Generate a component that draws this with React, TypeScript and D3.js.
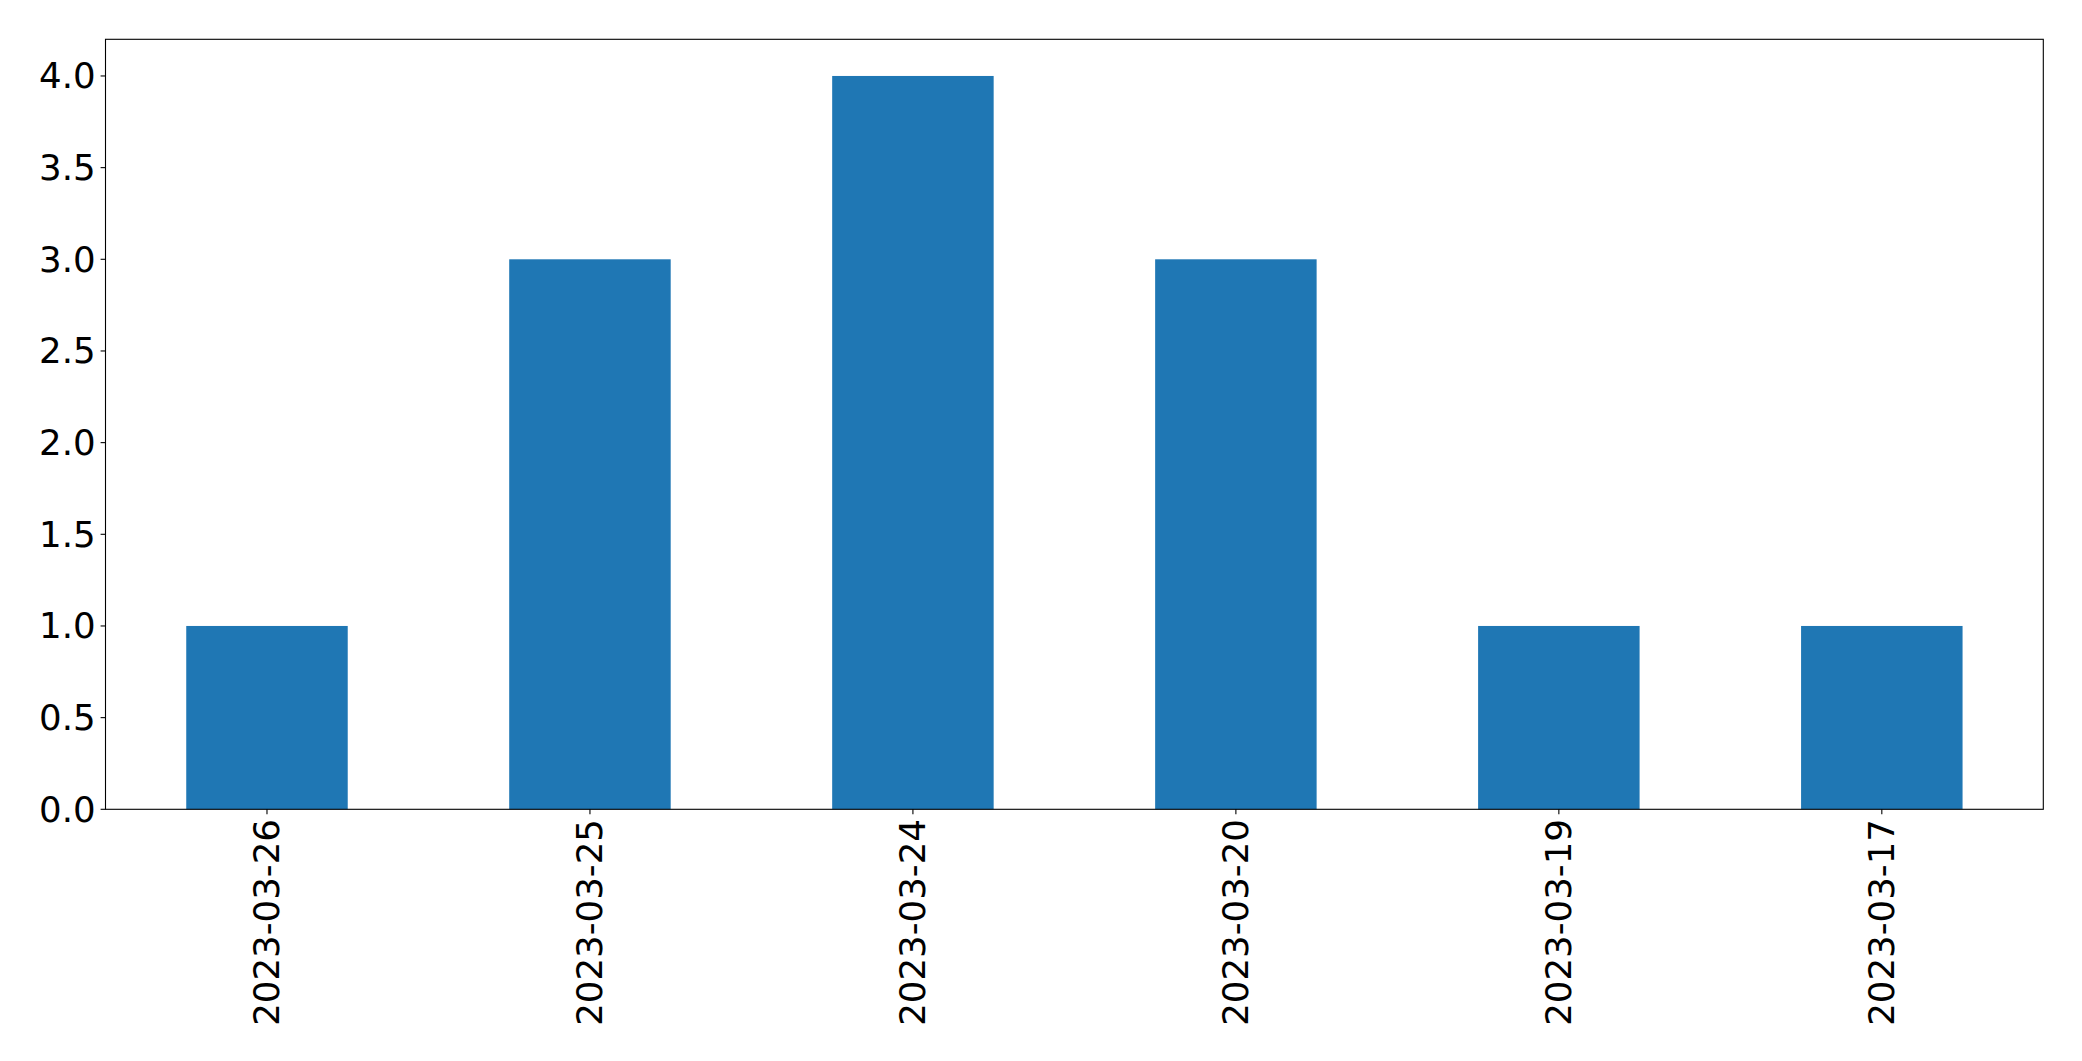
import React from "react";
import * as d3 from "d3";

const categories = ["2023-03-26", "2023-03-25", "2023-03-24", "2023-03-20", "2023-03-19", "2023-03-17"];
const counts = [1, 3, 4, 3, 1, 1];
const yTicks = [0, 0.5, 1, 1.5, 2, 2.5, 3, 3.5, 4];

const W = 2082;
const H = 1061;
const left = 105.5;
const right = 2043.3;
const top = 39.3;
const bottom = 809.3;
const FONT = "'DejaVu Sans', sans-serif";
const FS = 35.6;

export default function App() {
  const x = d3.scaleLinear().domain([-0.5, categories.length - 0.5]).range([left, right]);
  const y = d3.scaleLinear().domain([0, 4.2]).range([bottom, top]);
  const bw = x(0.25) - x(-0.25);
  return (
    <svg width={W} height={H} style={{ position: "absolute", left: 0, top: 0 }}>
      <rect x={0} y={0} width={W} height={H} fill="white" />
      {counts.map((v, i) => (
        <rect key={i} x={x(i) - bw / 2} y={y(v)} width={bw} height={y(0) - y(v)} fill="#1f77b4" />
      ))}
      <rect x={left} y={top} width={right - left} height={bottom - top} fill="none" stroke="black" strokeWidth={1.1} />
      {yTicks.map((t) => (
        <g key={t}>
          <line x1={left - 4.9} x2={left} y1={y(t)} y2={y(t)} stroke="black" strokeWidth={1.1} />
          <text x={left - 9.8} y={y(t)} textAnchor="end" dominantBaseline="central" fontFamily={FONT} fontSize={FS} fill="black">
            {t.toFixed(1)}
          </text>
        </g>
      ))}
      {categories.map((c, i) => (
        <g key={c}>
          <line x1={x(i)} x2={x(i)} y1={bottom} y2={bottom + 4.9} stroke="black" strokeWidth={1.1} />
          <text
            transform={`translate(${x(i)},${bottom + 9.8}) rotate(-90)`}
            textAnchor="end"
            dominantBaseline="central"
            fontFamily={FONT}
            fontSize={FS}
            fill="black"
          >
            {c}
          </text>
        </g>
      ))}
    </svg>
  );
}
